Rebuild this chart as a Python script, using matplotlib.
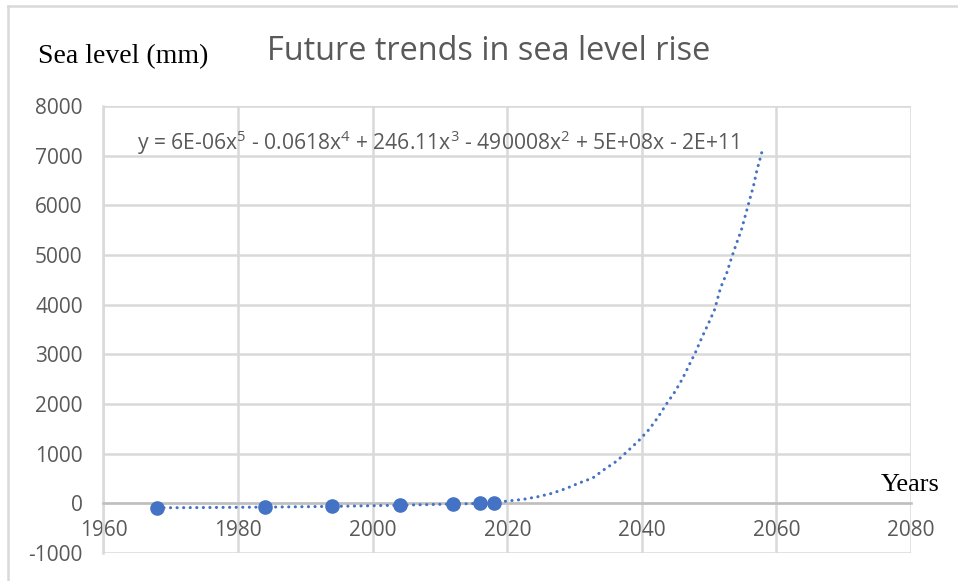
import matplotlib.pyplot as plt
from matplotlib.lines import Line2D

plt.rcParams['mathtext.fontset'] = 'custom'
plt.rcParams['mathtext.rm'] = 'Open Sans'
plt.rcParams['mathtext.it'] = 'Open Sans'
plt.rcParams['axes.unicode_minus'] = False

# ---------------- DATA ----------------
years = [1968, 1984, 1994, 2004, 2012, 2016, 2018]
sea_level = [-85, -70, -55, -35, -10, 15, 10]

# trendline
trend_years = [1968, 1975, 1980, 1985, 1990, 1995, 2000, 2005, 2010, 2015, 2018,
               2020, 2022.4, 2024.6, 2026.6, 2028.7, 2030.7, 2032.7, 2034.4,
               2036.3, 2037.9, 2039.5, 2041.1, 2042.4, 2043.6, 2044.9, 2046.0,
               2047.0, 2048.0, 2048.9, 2049.9, 2050.8, 2051.7, 2052.6, 2053.3,
               2054.0, 2054.8, 2055.4, 2056.0, 2056.6, 2057.1, 2057.7, 2058.0]
trend_level = [-90, -85, -80, -75, -68, -60, -48, -35, -20, -5, 15,
               46, 80, 135, 200, 296, 410, 510, 680,
               853, 1054, 1256, 1492, 1734, 1990, 2244, 2500,
               2776, 3050, 3333, 3623, 3897, 4341, 4631, 4933,
               5208, 5510, 5806, 6103, 6397, 6708, 7002, 7163]

x_ticks = [1960, 1980, 2000, 2020, 2040, 2060, 2080]
y_ticks = [-1000, 0, 1000, 2000, 3000, 4000, 5000, 6000, 7000, 8000]

equation = (r'y = 6E-06x$^{5}$ - 0.0618x$^{4}$ + 246.11x$^{3}$ - '
            r'490008x$^{2}$ + 5E+08x - 2E+11')

blue = '#4472C4'
grid_col = '#d9d9d9'
text_col = '#595959'

# ---------------- PLOT ----------------
fig = plt.figure(figsize=(9.58, 5.81), dpi=100)
ax = fig.add_axes([0.108, 0.0482, 0.843, 0.7694])

ax.plot(trend_years, trend_level, color=blue, linewidth=2.2,
        linestyle=(0, (0.05, 2.1)), dash_capstyle='round', zorder=3)
ax.plot(years, sea_level, 'o', color=blue, markersize=9.5, zorder=4)

ax.set_xlim(1960, 2080)
ax.set_ylim(-1000, 8000)
ax.set_xticks(x_ticks)
ax.set_yticks(y_ticks)
ax.grid(True, color=grid_col, linewidth=1.8)
ax.set_axisbelow(True)

for side in ['top', 'right']:
    ax.spines[side].set_visible(False)
ax.spines['left'].set_color(grid_col)
ax.spines['left'].set_linewidth(1.8)
ax.spines['bottom'].set_position(('data', 0))
ax.spines['bottom'].set_color('#bfbfbf')
ax.spines['bottom'].set_linewidth(1.8)

ax.tick_params(length=0, labelsize=15, labelcolor=text_col)
ax.tick_params(axis='y', pad=15)
ax.tick_params(axis='x', pad=12)
for lab in ax.get_xticklabels() + ax.get_yticklabels():
    lab.set_family('Open Sans')

fig.text(0.510, 0.912, 'Future trends in sea level rise', ha='center', va='center',
         fontsize=23.4, color=text_col, family='Open Sans')
fig.text(0.129, 0.902, 'Sea level (mm)', ha='center', va='center',
         fontsize=20, color='black', family='Liberation Serif')
fig.text(0.950, 0.165, 'Years', ha='center', va='center',
         fontsize=19, color='black', family='Liberation Serif')
fig.text(0.457, 0.754, equation, ha='center', va='center',
         fontsize=15.2, color=text_col, family='Open Sans')

# chart border (top and left visible)
fig.add_artist(Line2D([0.0085, 1.0], [0.990, 0.990], color=grid_col, linewidth=1.8))
fig.add_artist(Line2D([0.0085, 0.0085], [0.0, 0.990], color=grid_col, linewidth=1.8))

fig.savefig('out.png', dpi=100)
